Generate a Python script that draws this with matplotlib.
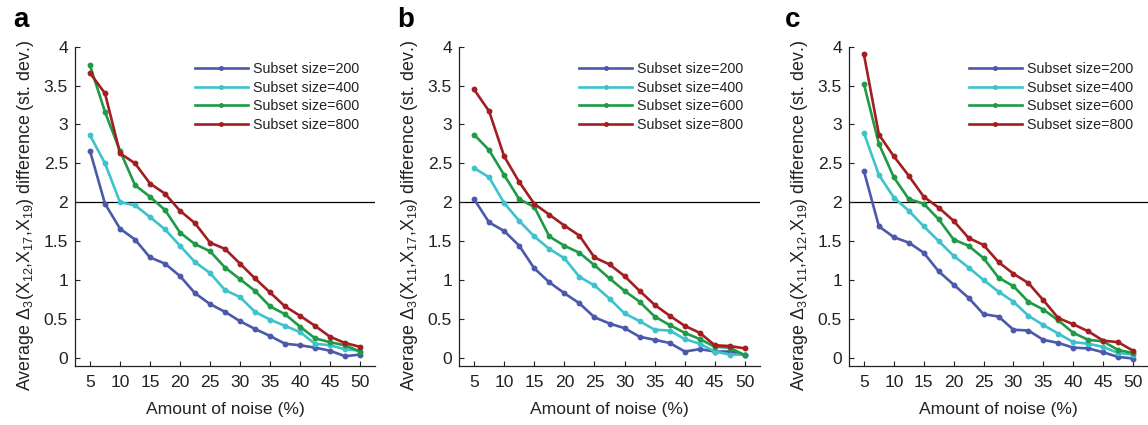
import matplotlib
matplotlib.use("Agg")
import matplotlib.pyplot as plt

plt.rcParams['font.family'] = ['Liberation Sans', 'DejaVu Sans']
plt.rcParams['mathtext.fontset'] = 'custom'
plt.rcParams['mathtext.rm'] = 'Liberation Sans'
plt.rcParams['mathtext.it'] = 'Liberation Sans'
plt.rcParams['mathtext.sf'] = 'Liberation Sans'

noise = [5, 7.5, 10, 12.5, 15, 17.5, 20, 22.5, 25, 27.5, 30, 32.5, 35, 37.5, 40, 42.5, 45, 47.5, 50]
series_labels = ['Subset size=200', 'Subset size=400', 'Subset size=600', 'Subset size=800']
x_ticks = [5, 10, 15, 20, 25, 30, 35, 40, 45, 50]
y_ticks = [0, 0.5, 1, 1.5, 2, 2.5, 3, 3.5, 4]
y_tick_labels = ['0', '0.5', '1', '1.5', '2', '2.5', '3', '3.5', '4']
threshold = 2
panel_letters = ['a', 'b', 'c']
ylabels = [
    r'Average $\Delta_3$(X$_{12}$,X$_{17}$,X$_{19}$) difference (st. dev.)',
    r'Average $\Delta_3$(X$_{11}$,X$_{17}$,X$_{19}$) difference (st. dev.)',
    r'Average $\Delta_3$(X$_{11}$,X$_{12}$,X$_{19}$) difference (st. dev.)',
]
xlabel = 'Amount of noise (%)'

# Panel a
a_200 = [2.66, 1.98, 1.66, 1.52, 1.29, 1.21, 1.05, 0.83, 0.69, 0.59, 0.47, 0.37, 0.28, 0.18, 0.16, 0.13, 0.09, 0.02, 0.04]
a_400 = [2.86, 2.50, 2.00, 1.96, 1.81, 1.65, 1.44, 1.23, 1.09, 0.87, 0.78, 0.59, 0.49, 0.41, 0.33, 0.18, 0.16, 0.11, 0.09]
a_600 = [3.76, 3.16, 2.66, 2.22, 2.07, 1.90, 1.61, 1.46, 1.37, 1.16, 1.01, 0.86, 0.66, 0.56, 0.40, 0.25, 0.20, 0.16, 0.08]
a_800 = [3.66, 3.40, 2.63, 2.50, 2.24, 2.11, 1.89, 1.73, 1.48, 1.40, 1.21, 1.02, 0.84, 0.66, 0.54, 0.41, 0.27, 0.19, 0.14]

# Panel b
b_200 = [2.04, 1.74, 1.63, 1.44, 1.15, 0.97, 0.83, 0.70, 0.52, 0.44, 0.38, 0.27, 0.23, 0.19, 0.08, 0.11, 0.08, 0.08, 0.04]
b_400 = [2.44, 2.32, 1.99, 1.76, 1.56, 1.40, 1.28, 1.04, 0.93, 0.76, 0.57, 0.47, 0.36, 0.35, 0.24, 0.18, 0.08, 0.04, 0.04]
b_600 = [2.87, 2.67, 2.35, 2.04, 1.94, 1.56, 1.44, 1.35, 1.19, 1.02, 0.86, 0.72, 0.53, 0.42, 0.32, 0.24, 0.14, 0.13, 0.03]
b_800 = [3.45, 3.17, 2.59, 2.26, 1.98, 1.84, 1.70, 1.57, 1.29, 1.20, 1.05, 0.86, 0.68, 0.54, 0.41, 0.32, 0.16, 0.15, 0.12]

# Panel c
c_200 = [2.40, 1.69, 1.55, 1.48, 1.35, 1.11, 0.94, 0.77, 0.56, 0.53, 0.36, 0.35, 0.23, 0.19, 0.13, 0.12, 0.07, 0.01, -0.01]
c_400 = [2.89, 2.35, 2.06, 1.89, 1.69, 1.50, 1.31, 1.16, 1.00, 0.85, 0.72, 0.54, 0.42, 0.31, 0.20, 0.18, 0.14, 0.06, 0.04]
c_600 = [3.52, 2.75, 2.32, 2.04, 1.98, 1.78, 1.52, 1.44, 1.28, 1.03, 0.92, 0.72, 0.62, 0.48, 0.32, 0.23, 0.21, 0.10, 0.06]
c_800 = [3.90, 2.87, 2.59, 2.34, 2.07, 1.93, 1.76, 1.54, 1.45, 1.23, 1.08, 0.96, 0.74, 0.51, 0.43, 0.34, 0.22, 0.20, 0.09]

panels = [
    [a_200, a_400, a_600, a_800],
    [b_200, b_400, b_600, b_800],
    [c_200, c_400, c_600, c_800],
]
colors = ['#4c58aa', '#3ec2cc', '#1f9a46', '#a11e21']

W, H = 1148, 425
fig = plt.figure(figsize=(W / 100, H / 100), dpi=100)

ax_lefts = [75, 459, 849]
ax_widths = [300, 301, 299]
ax_top_px, ax_bot_px = 46.7, 365.5
letter_x = [13, 397, 785]
text_color = '#222222'

for i, series in enumerate(panels):
    ax = fig.add_axes([ax_lefts[i] / W, (H - ax_bot_px) / H,
                       ax_widths[i] / W, (ax_bot_px - ax_top_px) / H])
    for vals, col, lab in zip(series, colors, series_labels):
        ax.plot(noise, vals, color=col, lw=1.9, marker='o', ms=3.2,
                label=lab, solid_joinstyle='round')
    ax.axhline(threshold, color='black', lw=0.9, zorder=0)
    ax.set_xlim(2.5, 52.5)
    ax.set_ylim(-0.1, 4)
    ax.set_xticks(x_ticks)
    ax.set_yticks(y_ticks)
    ax.set_yticklabels(y_tick_labels)
    ax.spines['top'].set_visible(False)
    ax.spines['right'].set_visible(False)
    for s in ('left', 'bottom'):
        ax.spines[s].set_linewidth(0.9)
        ax.spines[s].set_color(text_color)
    ax.tick_params(direction='in', length=3.5, width=0.8, labelsize=12.6,
                   colors=text_color)
    ax.tick_params(axis='x', pad=6.5)
    ax.tick_params(axis='y', pad=5)
    ax.set_xlabel(xlabel, fontsize=12.6, color=text_color)
    ax.xaxis.set_label_coords(0.5, -0.116)
    ax.set_ylabel(ylabels[i], fontsize=12.9, color=text_color)
    ax.yaxis.set_label_coords(-0.13, 0.47)
    leg = ax.legend(loc='upper left', bbox_to_anchor=(0.40, 0.952), frameon=False,
                    fontsize=10.3, borderpad=0, borderaxespad=0, handlelength=3.7,
                    handletextpad=0.35, labelspacing=0.33, numpoints=1,
                    markerscale=0.8)
    for t in leg.get_texts():
        t.set_color(text_color)
    fig.text(letter_x[i] / W, 1 - 27 / H, panel_letters[i], fontsize=20,
             fontweight='bold', va='baseline', ha='left')

fig.savefig('out.png', dpi=100)
